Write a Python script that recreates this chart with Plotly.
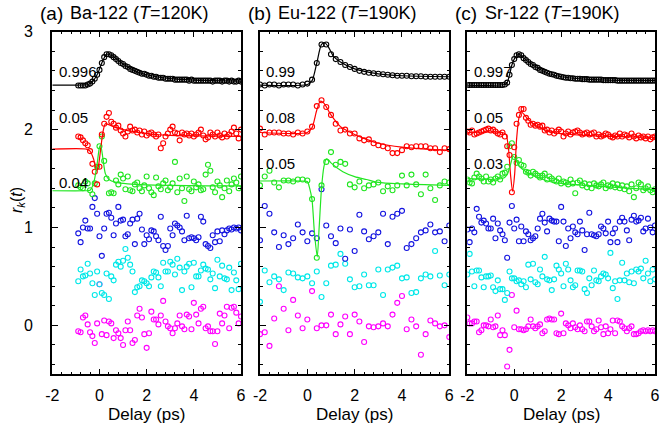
import plotly.graph_objects as go

# ---------------- data ----------------
delay_a = [-0.9, -0.8, -0.7, -0.6, -0.5, -0.4, -0.3, -0.2, -0.1, 0.0,
           0.1, 0.2, 0.3, 0.4, 0.5, 0.6, 0.7, 0.8, 0.9, 1.0,
           1.1, 1.2, 1.3, 1.4, 1.5, 1.6, 1.7, 1.8, 1.9, 2.0,
           2.1, 2.2, 2.3, 2.4, 2.5, 2.6, 2.7, 2.8, 2.9, 3.0,
           3.1, 3.2, 3.3, 3.4, 3.5, 3.6, 3.7, 3.8, 3.9, 4.0,
           4.1, 4.2, 4.3, 4.4, 4.5, 4.6, 4.7, 4.8, 4.9, 5.0,
           5.1, 5.2, 5.3, 5.4, 5.5, 5.6, 5.7, 5.8, 5.9, 6.0]
black_a = [2.45, 2.45, 2.45, 2.45, 2.46, 2.47, 2.49, 2.52, 2.56, 2.61,
           2.68, 2.74, 2.77, 2.77, 2.76, 2.74, 2.72, 2.70, 2.68, 2.67,
           2.65, 2.64, 2.62, 2.61, 2.60, 2.59, 2.58, 2.57, 2.57, 2.56,
           2.55, 2.55, 2.54, 2.54, 2.53, 2.53, 2.53, 2.52, 2.52, 2.52,
           2.52, 2.51, 2.51, 2.51, 2.51, 2.51, 2.51, 2.50, 2.51, 2.50,
           2.50, 2.50, 2.50, 2.50, 2.50, 2.50, 2.50, 2.49, 2.50, 2.50,
           2.50, 2.49, 2.50, 2.50, 2.49, 2.50, 2.49, 2.49, 2.50, 2.49]
red_a = [1.93, 1.92, 1.89, 1.86, 1.84, 1.78, 1.65, 1.57, 1.44, 1.62,
         1.95, 2.06, 2.13, 2.17, 2.08, 2.06, 2.02, 2.04, 1.99, 1.96,
         1.93, 1.98, 2.03, 1.99, 2.00, 1.97, 1.99, 1.95, 1.98, 1.94,
         1.96, 1.97, 1.95, 1.93, 1.95, 1.81, 1.86, 1.93, 1.96, 2.00,
         2.03, 1.97, 1.96, 1.89, 1.97, 1.95, 1.96, 1.94, 1.96, 1.93,
         1.95, 1.97, 2.00, 1.94, 1.90, 1.92, 1.97, 1.95, 1.93, 1.97,
         1.94, 1.92, 1.96, 1.93, 1.95, 1.98, 2.02, 1.96, 1.91, 2.00]
green_a = [1.43, 1.41, 1.40, 1.47, 1.45, 1.38, 1.34, 1.45, 1.62, 1.83,
           1.93, 1.68, 1.50, 1.35, 1.36, 1.35, 1.48, 1.44, 1.54, 1.50,
           1.39, 1.52, 1.38, 1.37, 1.44, 1.46, 1.40, 1.37, 1.43, 1.52,
           1.40, 1.36, 1.33, 1.51, 1.42, 1.39, 1.45, 1.48, 1.38, 1.41,
           1.45, 1.67, 1.36, 1.50, 1.40, 1.27, 1.52, 1.39, 1.37, 1.47,
           1.41, 1.44, 1.38, 1.39, 1.54, 1.64, 1.58, 1.41, 1.36, 1.47,
           1.43, 1.31, 1.40, 1.48, 1.37, 1.44, 1.50, 1.46, 1.40, 1.52]
blue_a = [0.94, 0.85, 1.00, 1.07, 0.99, 0.99, 1.21, 1.30, 1.14, 0.91,
          0.71, 0.99, 1.14, 1.15, 1.10, 0.92, 1.04, 1.21, 1.07, 1.08,
          0.91, 0.93, 1.04, 1.08, 0.83, 1.09, 1.14, 0.98, 0.83, 0.92,
          0.88, 0.97, 0.96, 0.91, 0.87, 1.11, 0.81, 0.77, 0.81, 0.99,
          0.92, 1.04, 1.02, 1.00, 0.96, 0.87, 1.12, 0.89, 0.90, 0.89,
          0.87, 0.90, 1.11, 1.06, 0.83, 0.81, 0.79, 0.92, 0.85, 0.96,
          0.86, 0.97, 0.93, 0.97, 0.99, 0.98, 1.00, 0.99, 1.00, 0.97]
cyan_a = [0.45, 0.57, 0.50, 0.51, 0.63, 0.53, 0.43, 0.31, 0.55, 0.42,
          0.33, 0.31, 0.53, 0.27, 0.50, 0.46, 0.62, 0.65, 0.60, 0.66,
          0.78, 0.69, 0.62, 0.55, 0.34, 0.39, 0.40, 0.46, 0.45, 0.43,
          0.40, 0.49, 0.55, 0.54, 0.49, 0.40, 0.64, 0.55, 0.55, 0.65,
          0.62, 0.52, 0.68, 0.59, 0.36, 0.55, 0.60, 0.63, 0.39, 0.64,
          0.50, 0.50, 0.56, 0.62, 0.58, 0.57, 0.47, 0.53, 0.38, 0.67,
          0.50, 0.61, 0.48, 0.47, 0.59, 0.36, 0.54, 0.46, 0.37, 0.63]
magenta_a = [-0.06, -0.07, 0.08, 0.10, 0.01, -0.07, -0.11, -0.18, 0.02, 0.42,
             -0.09, 0.05, -0.10, 0.04, 0.02, -0.13, -0.05, -0.08, -0.13, -0.20,
             -0.05, 0.04, -0.05, -0.18, -0.15, 0.10, 0.17, 0.08, -0.09, -0.23,
             -0.08, 0.14, 0.06, 0.06, 0.01, 0.10, 0.25, 0.04, -0.01, -0.03,
             -0.08, -0.03, 0.02, 0.10, -0.01, -0.04, 0.11, 0.09, -0.04, 0.23,
             0.11, 0.02, 0.17, 0.19, -0.03, -0.01, -0.06, -0.06, -0.19, -0.06,
             0.12, 0.02, 0.10, 0.19, -0.03, 0.18, 0.19, 0.13, 0.02, 0.09]

delay_b = [-2.0, -1.8, -1.6, -1.4, -1.2, -1.0, -0.8, -0.6, -0.4, -0.2,
           0.0, 0.2, 0.4, 0.6, 0.8, 1.0, 1.2, 1.4, 1.6, 1.8,
           2.0, 2.2, 2.4, 2.6, 2.8, 3.0, 3.2, 3.4, 3.6, 3.8,
           4.0, 4.2, 4.4, 4.6, 4.8, 5.0, 5.2, 5.4, 5.6, 5.8, 6.0]
black_b = [2.46, 2.45, 2.46, 2.46, 2.45, 2.46, 2.46, 2.46, 2.45, 2.46,
           2.47, 2.51, 2.68, 2.87, 2.87, 2.77, 2.72, 2.69, 2.66, 2.64,
           2.62, 2.60, 2.59, 2.58, 2.575, 2.57, 2.565, 2.56, 2.555, 2.55,
           2.55, 2.55, 2.545, 2.545, 2.545, 2.54, 2.54, 2.54, 2.54, 2.54, 2.54]
red_b = [2.01, 1.95, 1.97, 1.97, 1.97, 1.96, 1.96, 1.95, 1.97, 1.96,
         1.98, 2.03, 2.24, 2.30, 2.23, 2.15, 2.06, 1.99, 2.00, 1.96,
         1.96, 1.91, 1.89, 1.90, 1.86, 1.84, 1.83, 1.81, 1.76, 1.76,
         1.79, 1.83, 1.82, 1.83, 1.83, 1.83, 1.81, 1.81, 1.77, 1.81, 1.80]
green_b = [1.43, 1.52, 1.58, 1.46, 1.41, 1.48, 1.48, 1.47, 1.49, 1.49,
           1.48, 1.29, 0.69, 1.43, 1.67, 1.77, 1.64, 1.67, 1.65, 1.44,
           1.41, 1.47, 1.40, 1.43, 1.44, 1.46, 1.37, 1.42, 1.38, 1.43,
           1.53, 1.43, 1.54, 1.44, 1.34, 1.54, 1.40, 1.28, 1.43, 1.47, 1.46]
blue_b = [0.87, 1.22, 1.14, 0.95, 0.80, 0.92, 0.83, 0.89, 1.03, 0.95,
          0.86, 0.94, 0.89, 1.39, 1.02, 0.91, 0.84, 0.99, 0.68, 0.98,
          0.76, 1.13, 0.96, 0.88, 0.91, 0.95, 1.14, 0.83, 1.11, 1.14,
          1.17, 0.79, 0.83, 0.89, 0.95, 0.97, 1.03, 0.95, 0.96, 0.86, 1.02]
cyan_b = [0.24, 0.56, 0.44, 0.50, 0.47, 0.36, 0.54, 0.53, 0.49, 0.48,
          0.50, 0.43, 0.55, 0.29, 0.43, 0.61, 0.62, 0.73, 0.63, 0.47,
          0.39, 0.40, 0.52, 0.41, 0.41, 0.57, 0.31, 0.57, 0.59, 0.61,
          0.48, 0.49, 0.33, 0.34, 0.48, 0.52, 0.50, 0.76, 0.51, 0.41, 0.52]
magenta_b = [-0.09, -0.07, -0.21, 0.07, 0.40, 0.17, -0.05, 0.26, 0.10, -0.03,
             0.06, 0.35, -0.03, 0.00, 0.00, 0.11, -0.09, 0.01, 0.09, -0.09,
             0.11, 0.04, -0.17, -0.01, -0.02, -0.01, 0.02, -0.01, 0.11, 0.23,
             0.30, -0.04, 0.06, -0.01, -0.30, -0.09, 0.05, 0.02, -0.01, 0.00, -0.12]

delay_c = [-2.0, -1.9, -1.8, -1.7, -1.6, -1.5, -1.4, -1.3, -1.2, -1.1,
           -1.0, -0.9, -0.8, -0.7, -0.6, -0.5, -0.4, -0.3, -0.2, -0.1,
           0.0, 0.1, 0.2, 0.3, 0.4, 0.5, 0.6, 0.7, 0.8, 0.9,
           1.0, 1.1, 1.2, 1.3, 1.4, 1.5, 1.6, 1.7, 1.8, 1.9,
           2.0, 2.1, 2.2, 2.3, 2.4, 2.5, 2.6, 2.7, 2.8, 2.9,
           3.0, 3.1, 3.2, 3.3, 3.4, 3.5, 3.6, 3.7, 3.8, 3.9,
           4.0, 4.1, 4.2, 4.3, 4.4, 4.5, 4.6, 4.7, 4.8, 4.9,
           5.0, 5.1, 5.2, 5.3, 5.4, 5.5, 5.6, 5.7, 5.8, 5.9, 6.0]
black_c = [2.455, 2.455, 2.455, 2.455, 2.455, 2.455, 2.455, 2.455, 2.455, 2.455,
           2.455, 2.455, 2.455, 2.455, 2.455, 2.455, 2.46, 2.48, 2.56, 2.66,
           2.72, 2.76, 2.77, 2.76, 2.73, 2.71, 2.69, 2.67, 2.66, 2.64,
           2.63, 2.61, 2.60, 2.59, 2.58, 2.57, 2.565, 2.56, 2.55, 2.545,
           2.54, 2.535, 2.53, 2.53, 2.525, 2.525, 2.52, 2.52, 2.52, 2.515,
           2.515, 2.515, 2.51, 2.51, 2.51, 2.51, 2.51, 2.51, 2.505, 2.505,
           2.505, 2.505, 2.505, 2.505, 2.50, 2.50, 2.50, 2.50, 2.50, 2.50,
           2.50, 2.50, 2.50, 2.50, 2.50, 2.50, 2.50, 2.50, 2.50, 2.50, 2.50]
red_c = [1.98, 1.97, 1.99, 1.95, 1.96, 1.97, 1.98, 1.99, 2.00, 2.01,
         1.99, 2.00, 1.98, 1.96, 1.95, 1.97, 1.93, 1.83, 1.74, 1.36,
         1.82, 2.06, 2.15, 2.21, 2.21, 2.12, 2.09, 2.05, 2.06, 2.04,
         2.05, 2.03, 2.04, 1.99, 2.00, 1.97, 1.99, 1.96, 1.98, 2.00,
         1.98, 1.93, 1.96, 1.98, 1.95, 1.97, 1.98, 1.99, 1.97, 1.95,
         1.96, 1.97, 1.95, 1.96, 1.97, 1.93, 1.95, 1.93, 1.94, 1.96,
         1.95, 1.93, 1.92, 1.94, 1.93, 1.96, 1.93, 1.95, 1.94, 1.92,
         1.96, 1.93, 1.91, 1.94, 1.92, 1.93, 1.91, 1.93, 1.90, 1.92, 1.93]
green_c = [1.49, 1.46, 1.45, 1.51, 1.55, 1.52, 1.50, 1.47, 1.52, 1.47,
           1.49, 1.46, 1.50, 1.52, 1.49, 1.55, 1.56, 1.62, 1.83, 1.86,
           1.72, 1.66, 1.69, 1.64, 1.63, 1.57, 1.56, 1.53, 1.57, 1.55,
           1.53, 1.51, 1.53, 1.55, 1.49, 1.52, 1.50, 1.48, 1.47, 1.50,
           1.45, 1.47, 1.46, 1.44, 1.49, 1.45, 1.35, 1.46, 1.48, 1.43,
           1.45, 1.41, 1.44, 1.40, 1.45, 1.43, 1.42, 1.44, 1.46, 1.40,
           1.43, 1.42, 1.45, 1.41, 1.44, 1.40, 1.43, 1.39, 1.42, 1.37,
           1.44, 1.31, 1.40, 1.46, 1.44, 1.38, 1.40, 1.42, 1.38, 1.36, 1.39]
blue_c = [0.98, 0.85, 0.99, 0.95, 1.19, 1.11, 1.05, 1.07, 1.04, 0.99,
          0.99, 1.09, 0.89, 1.04, 0.97, 0.93, 0.87, 0.69, 1.05, 1.22,
          0.99, 1.08, 0.86, 1.01, 0.86, 0.96, 0.93, 0.87, 0.89, 0.91,
          0.99, 1.09, 1.14, 1.05, 0.96, 1.09, 1.07, 1.06, 1.06, 0.86,
          1.21, 1.06, 0.81, 0.99, 0.89, 1.01, 0.95, 0.93, 1.06, 0.97,
          0.77, 0.93, 1.15, 0.93, 0.92, 0.91, 0.93, 1.01, 0.99, 0.94,
          1.06, 0.85, 0.94, 0.99, 0.85, 1.06, 1.10, 1.06, 0.97, 0.87,
          1.08, 1.12, 1.06, 1.07, 1.10, 0.96, 0.99, 1.09, 1.00, 0.95, 1.02]
cyan_c = [0.52, 0.73, 0.55, 0.40, 0.56, 0.56, 0.49, 0.39, 0.50, 0.50,
          0.51, 0.39, 0.35, 0.46, 0.37, 0.37, 0.26, 0.33, 0.55, 0.48,
          0.48, 0.45, 0.46, 0.42, 0.45, 0.39, 0.62, 0.47, 0.63, 0.44,
          0.42, 0.57, 0.50, 0.70, 0.47, 0.46, 0.36, 0.47, 0.61, 0.57,
          0.53, 0.40, 0.63, 0.57, 0.46, 0.39, 0.41, 0.56, 0.56, 0.55,
          0.37, 0.33, 0.48, 0.41, 0.56, 0.46, 0.45, 0.50, 0.53, 0.52,
          0.48, 0.74, 0.38, 0.45, 0.27, 0.46, 0.64, 0.46, 0.53, 0.44,
          0.55, 0.43, 0.57, 0.55, 0.58, 0.48, 0.66, 0.53, 0.45, 0.57, 0.47]
magenta_c = [0.08, 0.02, 0.02, 0.04, 0.04, -0.07, -0.05, 0.00, 0.00, -0.01,
             0.06, -0.02, -0.01, 0.10, -0.10, -0.05, -0.10, -0.42, -0.25, 0.31,
             -0.02, 0.15, -0.04, -0.04, -0.05, -0.04, -0.01, 0.06, -0.01, -0.03,
             -0.01, 0.01, -0.08, -0.06, 0.06, 0.07, 0.06, 0.06, -0.08, -0.09,
             0.12, -0.08, 0.02, 0.00, -0.03, 0.02, -0.02, -0.04, 0.00, -0.04,
             -0.06, 0.04, 0.04, -0.01, -0.06, -0.04, 0.05, -0.02, -0.09, -0.01,
             -0.08, -0.04, 0.05, -0.08, 0.05, 0.04, -0.01, -0.03, -0.06, -0.03,
             -0.01, -0.09, -0.09, -0.08, -0.06, -0.05, -0.06, -0.05, -0.06, -0.05, -0.06]

# fitted curves (knots)
fit_black_a_x = [-2, -0.9, -0.5, -0.3, -0.1, 0.1, 0.3, 0.5, 1, 1.5, 2, 3, 4, 6]
fit_black_a_y = [2.455, 2.455, 2.46, 2.49, 2.56, 2.68, 2.77, 2.76, 2.67, 2.60, 2.56, 2.52, 2.505, 2.495]
fit_red_a_x = [-2, -0.55, -0.4, -0.25, -0.12, -0.05, 0.05, 0.15, 0.25, 0.4, 0.7, 1.2, 2, 3, 4, 6]
fit_red_a_y = [1.80, 1.80, 1.78, 1.70, 1.58, 1.62, 1.80, 1.98, 2.06, 2.05, 2.02, 1.99, 1.96, 1.94, 1.935, 1.93]
fit_green_a_x = [-2, -0.6, -0.4, -0.25, -0.1, 0.0, 0.05, 0.15, 0.25, 0.4, 0.7, 1.2, 2, 3, 4.5, 6]
fit_green_a_y = [1.375, 1.375, 1.38, 1.45, 1.65, 1.82, 1.84, 1.70, 1.55, 1.49, 1.46, 1.445, 1.435, 1.43, 1.425, 1.425]

fit_black_b_x = [-2, 0.0, 0.2, 0.4, 0.6, 0.75, 0.9, 1.1, 1.4, 2, 3, 4, 6]
fit_black_b_y = [2.455, 2.46, 2.50, 2.68, 2.87, 2.885, 2.84, 2.75, 2.69, 2.62, 2.57, 2.55, 2.54]
fit_red_b_x = [-2, 0.0, 0.2, 0.4, 0.55, 0.7, 1.0, 1.4, 2, 2.5, 3, 4, 5, 6]
fit_red_b_y = [1.97, 1.97, 2.02, 2.20, 2.29, 2.27, 2.15, 2.03, 1.95, 1.90, 1.86, 1.82, 1.80, 1.79]
fit_green_b_x = [-2, -0.2, 0.0, 0.1, 0.2, 0.3, 0.42, 0.5, 0.6, 0.7, 0.8, 0.9, 1.0, 1.5, 2, 2.5, 3, 4, 6]
fit_green_b_y = [1.475, 1.475, 1.47, 1.40, 1.28, 0.95, 0.70, 1.0, 1.40, 1.62, 1.70, 1.69, 1.66, 1.57, 1.52, 1.49, 1.46, 1.445, 1.43]

fit_black_c_x = [-2, -0.4, -0.3, -0.2, -0.1, 0.0, 0.2, 0.4, 1, 1.5, 2, 3, 4, 6]
fit_black_c_y = [2.455, 2.46, 2.48, 2.56, 2.66, 2.72, 2.77, 2.73, 2.63, 2.57, 2.54, 2.515, 2.505, 2.50]
fit_red_c_x = [-2, -0.5, -0.35, -0.25, -0.15, -0.07, 0.02, 0.1, 0.2, 0.3, 0.4, 0.6, 1, 1.5, 2, 3, 4, 6]
fit_red_c_y = [1.97, 1.97, 1.95, 1.82, 1.52, 1.37, 1.55, 1.90, 2.12, 2.18, 2.16, 2.10, 2.03, 1.98, 1.96, 1.94, 1.93, 1.92]
fit_green_c_x = [-2, -0.5, -0.3, -0.15, -0.05, 0.05, 0.2, 0.5, 1, 1.5, 2, 3, 4, 5, 6]
fit_green_c_y = [1.50, 1.50, 1.54, 1.65, 1.73, 1.70, 1.63, 1.57, 1.51, 1.47, 1.45, 1.43, 1.415, 1.40, 1.385]

weights_a = ["0.996", "0.05", "0.04"]
weights_b = ["0.99", "0.08", "0.05"]
weights_c = ["0.997", "0.05", "0.03"]
weight_label_y = [2.59, 2.12, 1.65]
weight_label_y_a = [2.59, 2.12, 1.46]

panel_letters = ["(a)", "(b)", "(c)"]
panel_titles = ["Ba-122 (<i>T</i>=120K)", "Eu-122 (<i>T</i>=190K)", "Sr-122 (<i>T</i>=190K)"]
x_ticks = [-2, 0, 2, 4, 6]
x_tick_text = ["-2", "0", "2", "4", "6"]
y_ticks = [0, 1, 2, 3]
y_tick_text = ["0 ", "1 ", "2 ", "3 "]

# ---------------- figure ----------------
W, H = 660, 433
FONT = "Liberation Sans, Arial, sans-serif"
colors = ["#000000", "#ff0000", "#22e622", "#1414e0", "#00e8e8", "#ff00ff"]

panels = [
    (delay_a, [black_a, red_a, green_a, blue_a, cyan_a, magenta_a],
     [(fit_black_a_x, fit_black_a_y), (fit_red_a_x, fit_red_a_y), (fit_green_a_x, fit_green_a_y)]),
    (delay_b, [black_b, red_b, green_b, blue_b, cyan_b, magenta_b],
     [(fit_black_b_x, fit_black_b_y), (fit_red_b_x, fit_red_b_y), (fit_green_b_x, fit_green_b_y)]),
    (delay_c, [black_c, red_c, green_c, blue_c, cyan_c, magenta_c],
     [(fit_black_c_x, fit_black_c_y), (fit_red_c_x, fit_red_c_y), (fit_green_c_x, fit_green_c_y)]),
]

fig = go.Figure()
for p, (dx, series, fits) in enumerate(panels):
    xa = "x" if p == 0 else f"x{p+1}"
    ya = "y" if p == 0 else f"y{p+1}"
    for k in range(5, -1, -1):
        fig.add_trace(go.Scatter(
            x=dx, y=series[k], mode="markers", xaxis=xa, yaxis=ya,
            marker=dict(symbol="circle-open", size=5, color=colors[k],
                        line=dict(width=1.1, color=colors[k])),
            showlegend=False, hoverinfo="skip"))
    for k, (fx, fy) in enumerate(fits):
        fig.add_trace(go.Scatter(
            x=fx, y=fy, mode="lines", xaxis=xa, yaxis=ya,
            line=dict(color=colors[k], width=1.2, shape="spline", smoothing=0.7),
            showlegend=False, hoverinfo="skip"))

px_x = [(52.3, 241.0), (260.0, 449.3), (467.3, 655.0)]
y_dom = [1 - 374.3 / H, 1 - 31.7 / H]

axis_common = dict(showline=True, linecolor="black", linewidth=1.5, mirror="allticks",
                   ticks="inside", ticklen=6, tickwidth=1.2, tickcolor="black",
                   showgrid=False, zeroline=False, automargin=False,
                   tickfont=dict(family=FONT, size=16, color="black"))

layout = dict(width=W, height=H, margin=dict(l=0, r=0, t=0, b=0, pad=0, autoexpand=False),
              paper_bgcolor="white", plot_bgcolor="white",
              font=dict(family=FONT, color="black"))
for p in range(3):
    xn = "xaxis" if p == 0 else f"xaxis{p+1}"
    yn = "yaxis" if p == 0 else f"yaxis{p+1}"
    ya = "y" if p == 0 else f"y{p+1}"
    xa = "x" if p == 0 else f"x{p+1}"
    layout[xn] = dict(axis_common, domain=[px_x[p][0] / W, px_x[p][1] / W], anchor=ya,
                      range=[-2, 6], tickvals=x_ticks, ticktext=x_tick_text,
                      ticklabelstandoff=6,
                      minor=dict(ticks="inside", ticklen=3, tickwidth=1, tickcolor="black", dtick=0.4, tick0=-2))
    layout[yn] = dict(axis_common, domain=y_dom, anchor=xa, range=[-0.5, 3],
                      tickvals=y_ticks, ticktext=y_tick_text, showticklabels=(p == 0),
                      ticklabelstandoff=10,
                      minor=dict(ticks="inside", ticklen=3, tickwidth=1, tickcolor="black", dtick=0.2, tick0=0))
fig.update_layout(**layout)

ann = []
for p in range(3):
    x0 = px_x[p][0]
    ann.append(dict(x=(x0 - 14) / W, y=1 - 13 / H, xref="paper", yref="paper",
                    text=panel_letters[p], showarrow=False, xanchor="left", yanchor="middle",
                    font=dict(family=FONT, size=19, color="black")))
    ann.append(dict(x=(x0 + 16) / W, y=1 - 13 / H, xref="paper", yref="paper",
                    text=panel_titles[p], showarrow=False, xanchor="left", yanchor="middle",
                    font=dict(family=FONT, size=18, color="black")))
    ann.append(dict(x=(px_x[p][0] + px_x[p][1]) / 2 / W, y=1 - 414 / H, xref="paper", yref="paper",
                    text="Delay (ps)", showarrow=False, xanchor="center", yanchor="middle",
                    font=dict(family=FONT, size=17, color="black")))
    xa = "x" if p == 0 else f"x{p+1}"
    ya = "y" if p == 0 else f"y{p+1}"
    labels = [weights_a, weights_b, weights_c][p]
    ly = weight_label_y_a if p == 0 else weight_label_y
    for t, yv in zip(labels, ly):
        ann.append(dict(x=-1.82, y=yv, xref=xa, yref=ya, text=t, showarrow=False,
                        xanchor="left", yanchor="middle",
                        font=dict(family=FONT, size=15, color="black")))
ann.append(dict(x=18 / W, y=1 - 200 / H, xref="paper", yref="paper",
                text="<i>r</i><sub><i>k</i></sub>(<i>t</i>)", showarrow=False, textangle=-90,
                xanchor="center", yanchor="middle",
                font=dict(family=FONT, size=16, color="black")))
fig.update_layout(annotations=ann)

fig.write_html("out.html", config={"displayModeBar": False},
               post_script="document.body.style.margin='0px';")
